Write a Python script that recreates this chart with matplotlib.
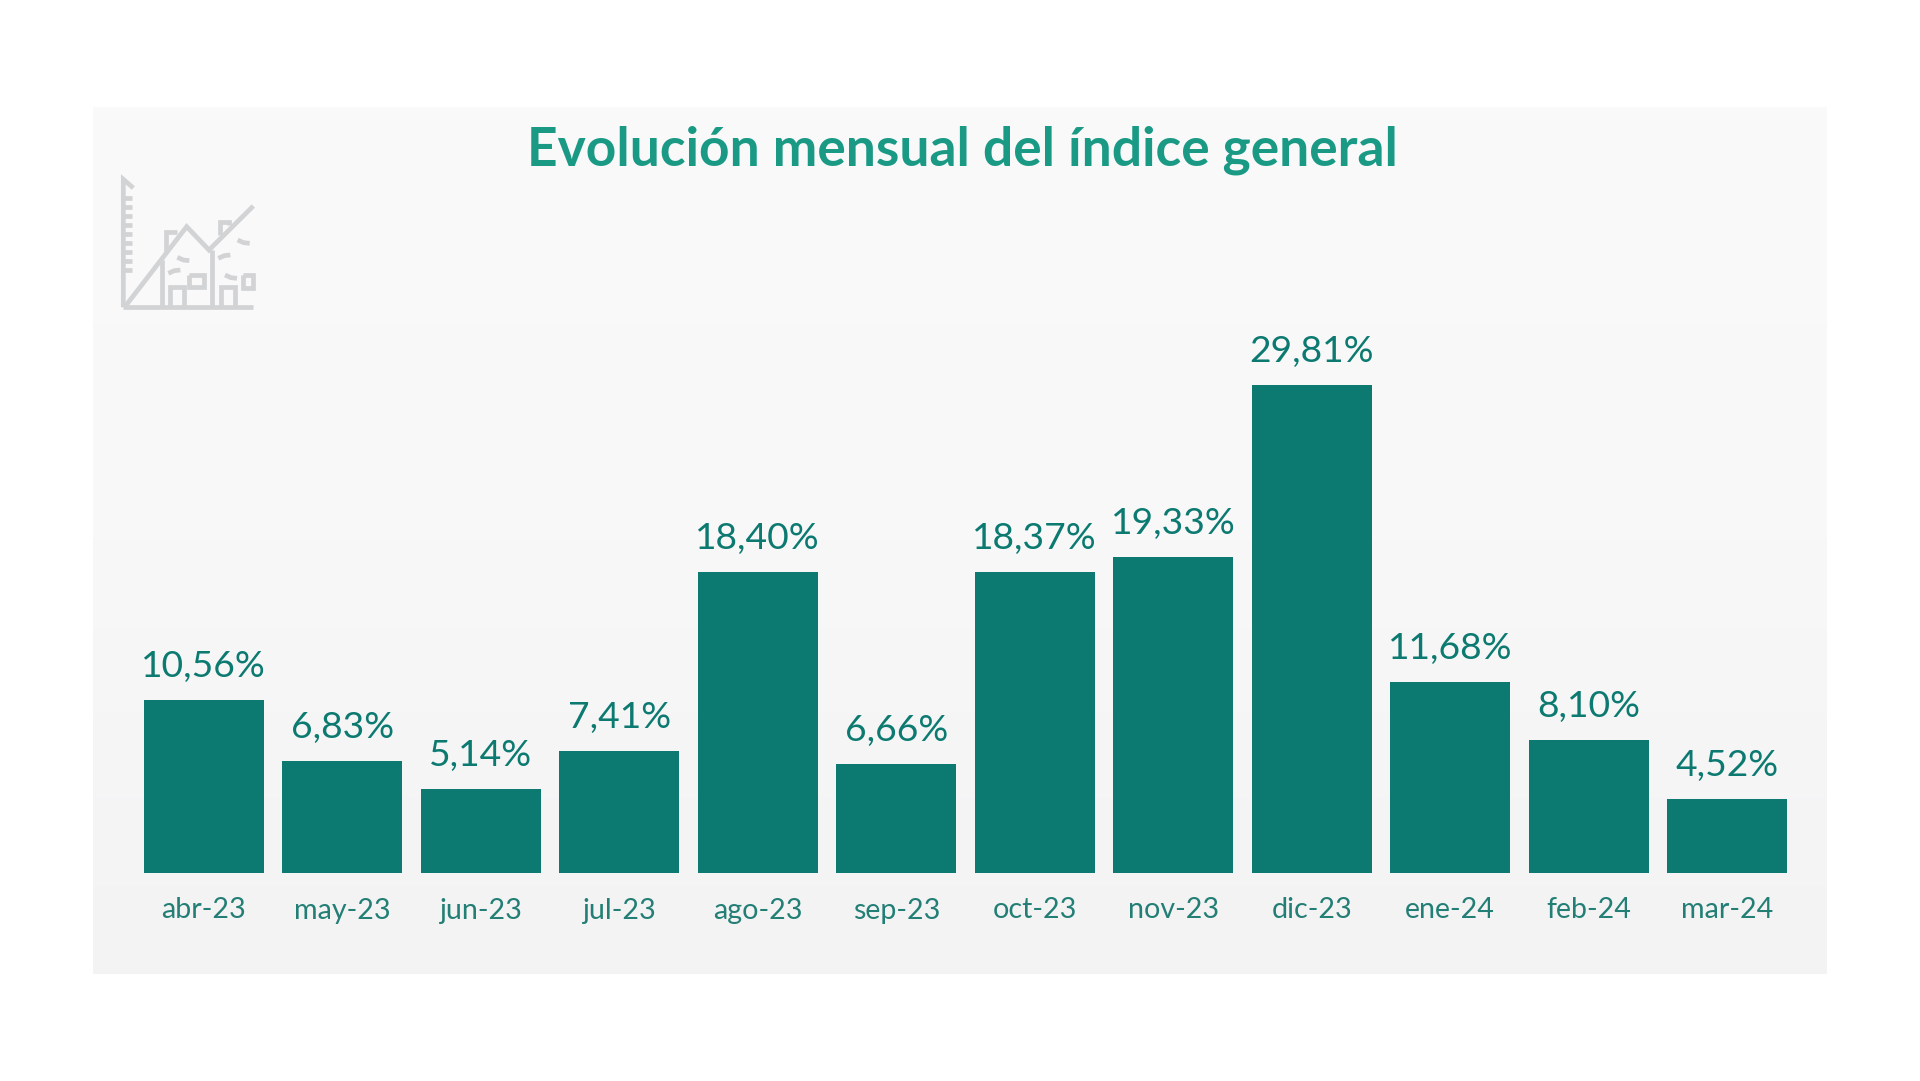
import matplotlib.pyplot as plt
import numpy as np
from matplotlib.colors import LinearSegmentedColormap

months = ['abr-23', 'may-23', 'jun-23', 'jul-23', 'ago-23', 'sep-23',
          'oct-23', 'nov-23', 'dic-23', 'ene-24', 'feb-24', 'mar-24']
values = [10.56, 6.83, 5.14, 7.41, 18.40, 6.66, 18.37, 19.33, 29.81, 11.68, 8.10, 4.52]
labels = ['10,56%', '6,83%', '5,14%', '7,41%', '18,40%', '6,66%',
          '18,37%', '19,33%', '29,81%', '11,68%', '8,10%', '4,52%']

W, H = 1920, 1081
plt.rcParams['font.family'] = ['Lato', 'Open Sans', 'DejaVu Sans']
green = '#0c7a70'

fig = plt.figure(figsize=(W / 100, H / 100), dpi=100, facecolor='white')

# page in pixels, for the panel and the icon
bg = fig.add_axes([0, 0, 1, 1])
bg.axis('off')
grad = np.linspace(0, 1, 256).reshape(-1, 1)
cmap = LinearSegmentedColormap.from_list('p', ['#fafafb', '#f8f8f9', '#f3f3f4'])
bg.imshow(grad, extent=(93, 1827, 974, 107), aspect='auto', cmap=cmap, zorder=0)
bg.set_xlim(0, W)
bg.set_ylim(H, 0)

bg.text(962, 150.5, 'Evolución mensual del índice general', color='#1a9a85', fontsize=38.4,
        fontweight='bold', ha='center', va='center')

# house icon
ic = '#d2d3d5'
lw = 3.4
def px(xs, ys):
    bg.plot([90 + x / 3 for x in xs], [100 + y / 3 for y in ys], color=ic, lw=lw,
            solid_capstyle='butt', solid_joinstyle='miter')
px([100, 100, 130], [622, 238, 264])
px([100, 490], [622, 622])
px([105, 290, 357, 490], [620, 380, 450, 318])
px([215, 215], [622, 480])
px([367, 367], [622, 450])
px([227, 227, 262], [455, 396, 396])
px([390, 390, 418, 418], [405, 365, 365, 375])
px([240, 240, 283, 283], [622, 560, 560, 622])
px([392, 392, 436, 436], [622, 560, 560, 622])
px([298, 298, 342, 342, 298], [525, 562, 562, 525, 525])
px([460, 460, 490, 490, 460], [525, 565, 565, 525, 525])
for x0, y0 in [(262, 472), (405, 525), (443, 420)]:
    px([x0, x0 + 18, x0 + 36], [y0, y0 + 8, y0 + 10])
for x0, y0 in [(235, 520), (385, 475)]:
    px([x0, x0 + 18, x0 + 36], [y0, y0 - 8, y0 - 10])
for y in range(295, 520, 27):
    px([100, 125], [y, y])

# bars, axes placed so that y=0 sits on the bar baseline
left, right, top, bottom = 134.5, 1796.5, 372.5, 872.5
ax = fig.add_axes([left / W, 1 - bottom / H, (right - left) / W, (bottom - top) / H])
ax.patch.set_alpha(0)
x = np.arange(len(months))
ax.bar(x, values, width=0.87, color=green)
ax.set_xlim(-0.5, 11.5)
ax.set_ylim(0, 30.6)
for spine in ax.spines.values():
    spine.set_visible(False)
ax.set_yticks([])
ax.set_xticks(x)
ax.set_xticklabels(months, fontsize=20.6, color='#237f75')
ax.tick_params(axis='x', length=0, pad=18)
for i, v in enumerate(values):
    ax.annotate(labels[i], (i, v), xytext=(0, 12.2), textcoords='offset points', ha='center',
                va='bottom', fontsize=26.8, color=green)

fig.savefig('out.png', dpi=100)
